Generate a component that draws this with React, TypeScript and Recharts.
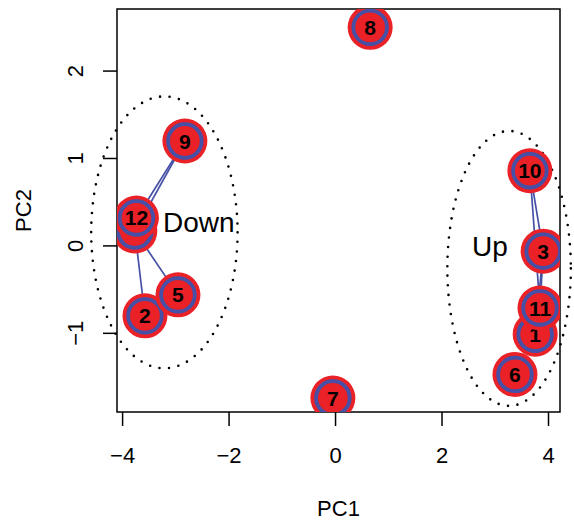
import React from "react";
import { ScatterChart, Scatter, XAxis, YAxis, ReferenceArea, Label } from "recharts";

const sampleIds = ["1", "2", "3", "4", "5", "6", "7", "8", "9", "10", "11", "12"];
const pc1Values = [3.75, -3.58, 3.9, -3.77, -2.96, 3.37, -0.05, 0.65, -2.83, 3.65, 3.84, -3.74];
const pc2Values = [-1.01, -0.8, -0.06, 0.17, -0.56, -1.47, -1.74, 2.5, 1.2, 0.86, -0.71, 0.32];

const edgePairs: [string, string][] = [
  ["9", "12"],
  ["9", "4"],
  ["4", "2"],
  ["4", "5"],
  ["10", "3"],
  ["10", "11"],
  ["3", "11"],
  ["3", "1"],
];

const groupNames = ["Down", "Up"];
const groupLabelX = [-2.57, 2.9];
const groupLabelY = [0.27, 0.0];
const ellipseX1 = [-4.59, 2.1];
const ellipseX2 = [-1.84, 4.42];
const ellipseY1 = [-1.4, -1.83];
const ellipseY2 = [1.71, 1.315];

const xTicks = [-4, -2, 0, 2, 4];
const yTicks = [-1, 0, 1, 2];
const xDomain = [-4.105, 4.216];
const yDomain = [-1.9, 2.71];

const FONT = '"Liberation Sans", Arial, Helvetica, sans-serif';
const RED = "#EA2127";
const BLUE = "#4650A6";

const points = sampleIds.map((id, i) => ({ id, x: pc1Values[i], y: pc2Values[i] }));
const byId: Record<string, { id: string; x: number; y: number }> = {};
points.forEach((p) => (byId[p.id] = p));
const edges = edgePairs.map(([a, b]) => [byId[a], byId[b]]);
const groupLabels = groupNames.map((name, i) => ({ name, x: groupLabelX[i], y: groupLabelY[i] }));

const fmt = (v: number) => (v < 0 ? "\u2212" + Math.abs(v) : String(v));

const NodeShape = (props: any) => {
  const { cx, cy, payload } = props;
  if (cx == null || cy == null) return <g />;
  return (
    <g>
      <circle cx={cx} cy={cy} r={22.5} fill={RED} />
      <circle cx={cx} cy={cy} r={16.8} fill="none" stroke={BLUE} strokeWidth={3.8} />
      <text
        x={cx}
        y={cy}
        dy="0.36em"
        textAnchor="middle"
        fontFamily={FONT}
        fontWeight="bold"
        fontSize={21}
        fill="#000"
      >
        {payload.id}
      </text>
    </g>
  );
};

const TextShape = (props: any) => {
  const { cx, cy, payload } = props;
  return (
    <text x={cx} y={cy} dy="0.36em" textAnchor="middle" fontFamily={FONT} fontSize={28} fill="#000">
      {payload.name}
    </text>
  );
};

const EllipseShape = (props: any) => {
  const { x, y, width, height } = props;
  return (
    <ellipse
      cx={x + width / 2}
      cy={y + height / 2}
      rx={Math.abs(width) / 2}
      ry={Math.abs(height) / 2}
      fill="none"
      stroke="#000"
      strokeWidth={2.6}
      strokeLinecap="round"
      strokeDasharray="0 9.6"
    />
  );
};

const BoxShape = (props: any) => {
  const { x, y, width, height } = props;
  return <rect x={x} y={y} width={width} height={height} fill="none" stroke="#000" strokeWidth={1.5} />;
};

const XTick = (props: any) => {
  const { x, y, payload } = props;
  return (
    <text x={x} y={y + 35} textAnchor="middle" fontFamily={FONT} fontSize={22} fill="#000">
      {fmt(payload.value)}
    </text>
  );
};

const YTick = (props: any) => {
  const { x, y, payload } = props;
  const bx = x - 17.5;
  return (
    <text
      x={bx}
      y={y}
      textAnchor="middle"
      transform={`rotate(-90, ${bx}, ${y})`}
      fontFamily={FONT}
      fontSize={22}
      fill="#000"
    >
      {fmt(payload.value)}
    </text>
  );
};

const noShape = () => <g />;

export default function App() {
  return (
    <div style={{ position: "absolute", left: 0, top: 0, background: "#fff" }}>
      <ScatterChart width={574} height={521} margin={{ top: 9, right: 14, bottom: 0, left: 0 }}>
        <XAxis
          type="number"
          dataKey="x"
          domain={xDomain}
          allowDataOverflow
          ticks={xTicks}
          tickSize={14}
          tickMargin={2}
          axisLine={false}
          tickLine={{ stroke: "#000", strokeWidth: 1.5 }}
          tick={<XTick />}
          height={109}
          interval={0}
        >
          <Label
            content={(p: any) => {
              const vb = p.viewBox;
              return (
                <text x={vb.x + vb.width / 2} y={516} textAnchor="middle" fontFamily={FONT} fontSize={22} fill="#000">
                  PC1
                </text>
              );
            }}
          />
        </XAxis>
        <YAxis
          type="number"
          dataKey="y"
          domain={yDomain}
          allowDataOverflow
          ticks={yTicks}
          tickSize={14}
          tickMargin={2}
          axisLine={false}
          tickLine={{ stroke: "#000", strokeWidth: 1.5 }}
          tick={<YTick />}
          width={117}
          interval={0}
        >
          <Label
            content={(p: any) => {
              const vb = p.viewBox;
              const cy = vb.y + vb.height / 2;
              return (
                <text
                  x={31}
                  y={cy}
                  textAnchor="middle"
                  transform={`rotate(-90, 31, ${cy})`}
                  fontFamily={FONT}
                  fontSize={22}
                  fill="#000"
                >
                  PC2
                </text>
              );
            }}
          />
        </YAxis>
        <ReferenceArea
          x1={xDomain[0]}
          x2={xDomain[1]}
          y1={yDomain[0]}
          y2={yDomain[1]}
          ifOverflow="visible"
          shape={<BoxShape />}
        />
        {groupNames.map((g, i) => (
          <ReferenceArea
            key={"ell" + g}
            x1={ellipseX1[i]}
            x2={ellipseX2[i]}
            y1={ellipseY1[i]}
            y2={ellipseY2[i]}
            ifOverflow="visible"
            shape={<EllipseShape />}
          />
        ))}
        {edges.map((e, i) => (
          <Scatter
            key={"edge" + i}
            data={e}
            line={{ stroke: BLUE, strokeWidth: 1.7 }}
            shape={noShape}
            isAnimationActive={false}
          />
        ))}
        <Scatter data={points} shape={<NodeShape />} isAnimationActive={false} />
        <Scatter data={groupLabels} shape={<TextShape />} isAnimationActive={false} />
      </ScatterChart>
    </div>
  );
}
